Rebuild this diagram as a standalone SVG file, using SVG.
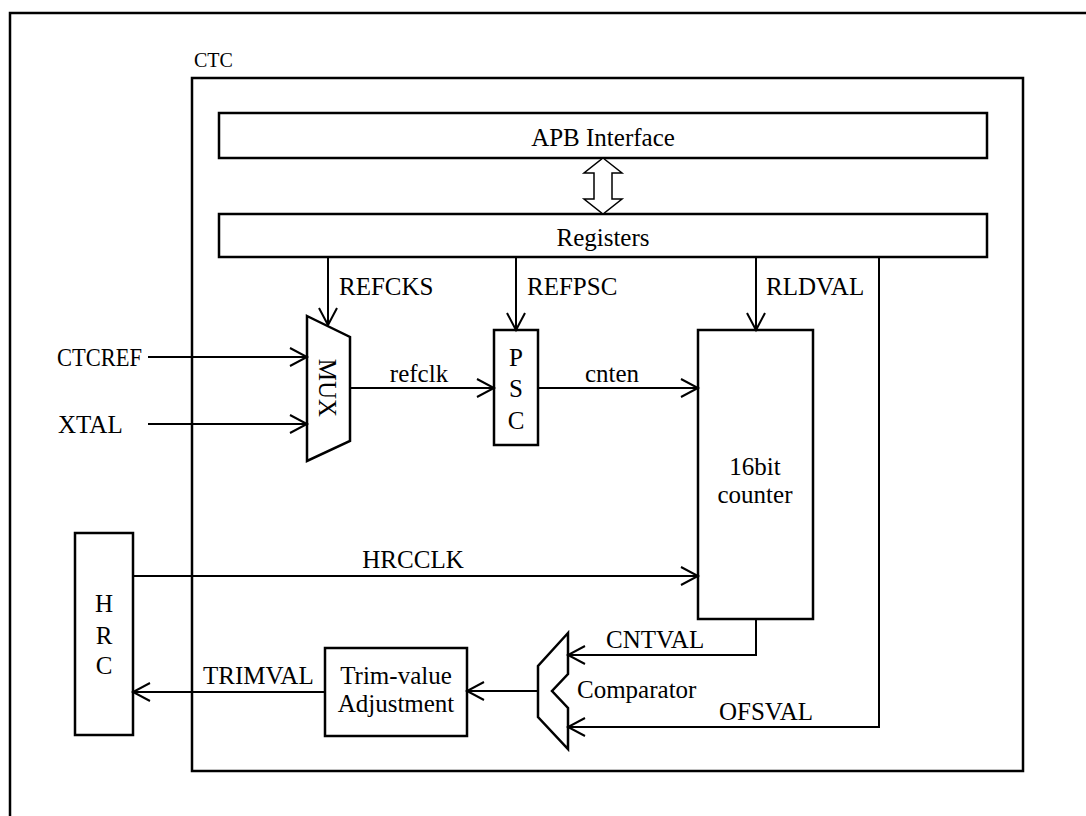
<svg xmlns="http://www.w3.org/2000/svg" width="1086" height="816" viewBox="0 0 1086 816">
<style>
.box{fill:#fff;stroke:#000;stroke-width:2.5}
.ln{fill:none;stroke:#000;stroke-width:2}
.t{font-family:"Liberation Serif","Times New Roman",serif;font-size:25px;fill:#000}
.m{text-anchor:middle}
</style>
<defs>
<marker id="ah" markerUnits="userSpaceOnUse" markerWidth="24" markerHeight="24" viewBox="-20 -12 24 24" refX="0" refY="0" orient="auto">
<path d="M-17,-9 L0,0 L-17,9" fill="none" stroke="#000" stroke-width="2"/>
</marker>
</defs>
<rect width="1086" height="816" fill="#fff"/>
<rect x="10" y="13" width="1100" height="850" fill="none" stroke="#000" stroke-width="2.5"/>
<g id="ctc">
<rect class="box" x="192" y="78" width="831" height="693"/>
<text x="194" y="67" style="font-family:'Liberation Serif',serif;font-size:20px">CTC</text>
</g>
<g id="apb"><rect class="box" x="219" y="113" width="768" height="45"/><text class="t m" x="603" y="146">APB Interface</text></g>
<g id="registers"><rect class="box" x="219" y="214" width="768" height="43"/><text class="t m" x="603" y="246">Registers</text></g>
<g id="bus"><path d="M603,158 L622,173 L612,173 L612,199 L622,199 L603,214 L584,199 L594,199 L594,173 L584,173 Z" fill="#fff" stroke="#000" stroke-width="1.5"/></g>
<g id="mux"><path class="box" d="M307,316 L350,337 L350,441 L307,461 Z"/><text class="t m" transform="translate(328,388) rotate(90)" y="9">MUX</text></g>
<g id="psc"><rect class="box" x="494" y="330" width="44" height="115"/><text class="t m" x="516" y="366">P</text><text class="t m" x="516" y="397">S</text><text class="t m" x="516" y="429">C</text></g>
<g id="counter"><rect class="box" x="698" y="330" width="115" height="289"/><text class="t m" x="755" y="475">16bit</text><text class="t m" x="755" y="503">counter</text></g>
<g id="hrc"><rect class="box" x="75" y="533" width="58" height="202"/><text class="t m" x="104" y="612">H</text><text class="t m" x="104" y="644">R</text><text class="t m" x="104" y="674">C</text></g>
<g id="trim"><rect class="box" x="325" y="648" width="142" height="88"/><text class="t m" x="396" y="684">Trim-value</text><text class="t m" x="396" y="712">Adjustment</text></g>
<g id="comparator"><path class="box" d="M568,633 L538,666 L538,717 L568,749 L568,708 L552,691 L568,674 Z"/><text class="t" x="577" y="698">Comparator</text></g>
<g id="connectors">
<path class="ln" d="M328,257 V325" marker-end="url(#ah)"/>
<path class="ln" d="M516,257 V330" marker-end="url(#ah)"/>
<path class="ln" d="M756,257 V330" marker-end="url(#ah)"/>
<path class="ln" d="M148,357 H307" marker-end="url(#ah)"/>
<path class="ln" d="M148,424 H307" marker-end="url(#ah)"/>
<path class="ln" d="M350,388 H494" marker-end="url(#ah)"/>
<path class="ln" d="M538,388 H698" marker-end="url(#ah)"/>
<path class="ln" d="M133,576 H698" marker-end="url(#ah)"/>
<path class="ln" d="M756,619 V655 H568" marker-end="url(#ah)"/>
<path class="ln" d="M879,257 V727 H568" marker-end="url(#ah)"/>
<path class="ln" d="M538,691 H467" marker-end="url(#ah)"/>
<path class="ln" d="M325,692 H133" marker-end="url(#ah)"/>
<text class="t" x="339" y="295">REFCKS</text>
<text class="t" x="527" y="295">REFPSC</text>
<text class="t" x="766" y="295">RLDVAL</text>
<text class="t" x="57" y="366" textLength="85" lengthAdjust="spacingAndGlyphs">CTCREF</text>
<text class="t" x="58" y="433">XTAL</text>
<text class="t m" x="419" y="382">refclk</text>
<text class="t m" x="612" y="382">cnten</text>
<text class="t m" x="413" y="568">HRCCLK</text>
<text class="t" x="203" y="684">TRIMVAL</text>
<text class="t" x="606" y="648">CNTVAL</text>
<text class="t" x="719" y="720">OFSVAL</text>
</g>
</svg>
